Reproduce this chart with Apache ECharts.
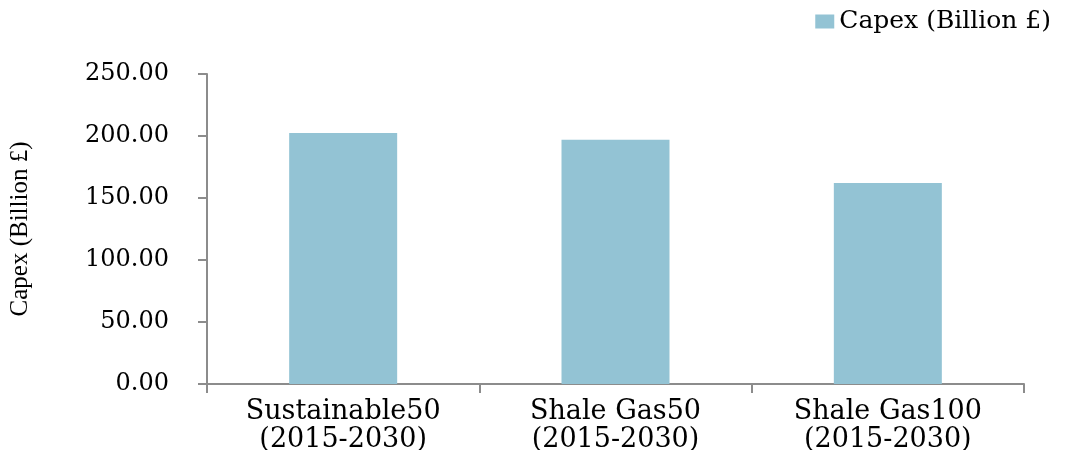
<!DOCTYPE html>
<html>
<head>
<meta charset="utf-8">
<script src="https://cdn.jsdelivr.net/npm/echarts@6/dist/echarts.min.js"></script>
<style>
  html, body { margin: 0; padding: 0; background: #fff; }
  #chart { width: 1068px; height: 450px; }
</style>
</head>
<body>
<div id="chart"></div>
<script>
// Capital expenditure per scenario, 2015-2030
const categories = [
  'Sustainable50\n(2015-2030)',
  'Shale Gas50\n(2015-2030)',
  'Shale Gas100\n(2015-2030)'
];
const capexValues = [202.5, 197.0, 162.0];
const seriesName = 'Capex (Billion £)';
const yAxisTitle = 'Capex (Billion £)';

const chart = echarts.init(document.getElementById('chart'));
const axisGray = '#8c8c8c';

chart.setOption({
  animation: false,
  legend: {
    data: [seriesName],
    right: 12,
    top: 4,
    icon: 'rect',
    itemWidth: 19,
    itemHeight: 14,
    itemGap: 8,
    textStyle: { fontFamily: 'DejaVu Serif', fontSize: 25, color: '#000' }
  },
  grid: {
    left: 207, right: 44, top: 74, bottom: 66,
    containLabel: false,
    outerBoundsMode: 'none'
  },
  xAxis: {
    type: 'category',
    data: categories,
    axisLine: { lineStyle: { color: axisGray, width: 2 } },
    axisTick: { show: true, length: 9, lineStyle: { color: axisGray, width: 2 } },
    axisLabel: {
      fontFamily: 'DejaVu Serif',
      fontSize: 27,
      color: '#000',
      margin: 14,
      lineHeight: 28,
      interval: 0
    }
  },
  yAxis: {
    type: 'value',
    min: 0,
    max: 250,
    interval: 50,
    name: yAxisTitle,
    nameLocation: 'middle',
    nameRotate: 90,
    nameGap: 174,
    nameTextStyle: { fontFamily: 'Liberation Serif', fontSize: 25, color: '#000' },
    axisLine: { show: true, lineStyle: { color: axisGray, width: 2 } },
    axisTick: { show: true, length: 9, lineStyle: { color: axisGray, width: 2 } },
    splitLine: { show: false },
    axisLabel: {
      fontFamily: 'DejaVu Serif',
      fontSize: 24,
      color: '#000',
      margin: 38,
      formatter: v => v.toFixed(2)
    }
  },
  series: [{
    name: seriesName,
    type: 'bar',
    data: capexValues,
    barWidth: 108,
    itemStyle: { color: '#93c3d4' }
  }]
});
</script>
</body>
</html>
